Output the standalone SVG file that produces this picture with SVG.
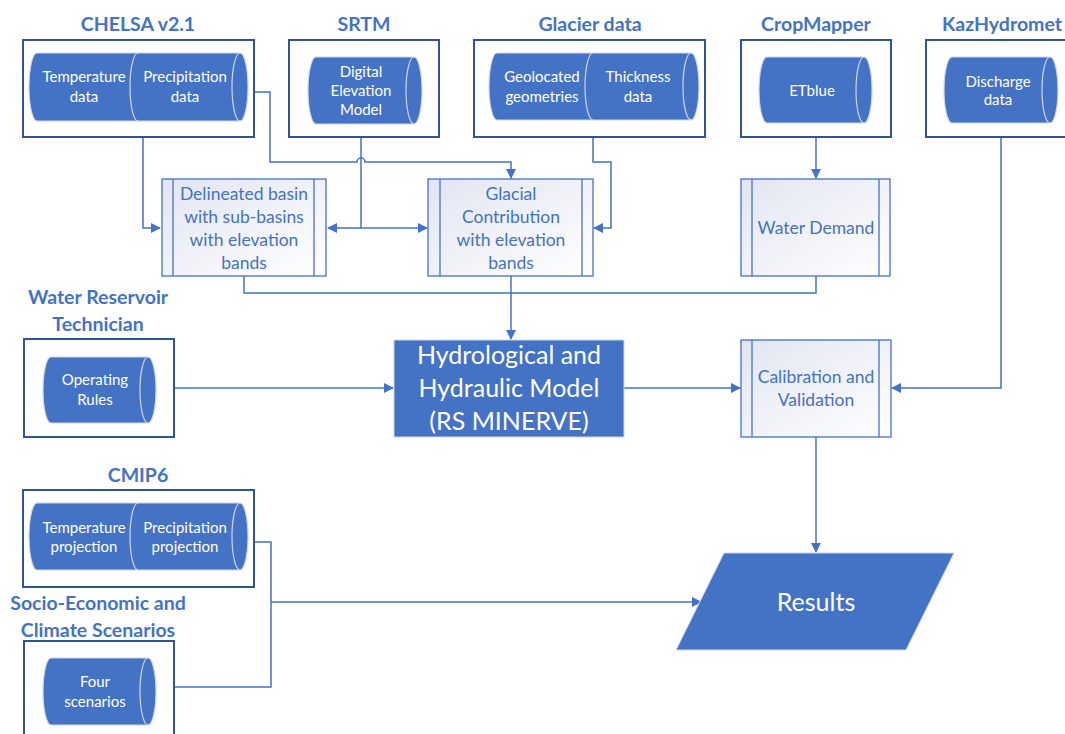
<svg xmlns="http://www.w3.org/2000/svg" width="1065" height="734" viewBox="0 0 1065 734">
<style>
.title{font-family:Lato,"Liberation Sans",sans-serif;font-weight:bold;font-size:19.5px;fill:#4472C4;text-anchor:middle}
.ct{font-family:Lato,"Liberation Sans",sans-serif;font-size:15px;fill:#FFFFFF;text-anchor:middle}
.pt{font-family:Lato,"Liberation Sans",sans-serif;font-size:17.5px;fill:#4472C4;text-anchor:middle}
.big{font-family:Lato,"Liberation Sans",sans-serif;font-size:25px;fill:#FFFFFF;text-anchor:middle}
.box{fill:#FFFFFF;stroke:#2F5597;stroke-width:2}
.cyl{fill:#4472C4;stroke:#D0D5E0;stroke-width:1.2}
.cin{fill:none;stroke:#D0D5E0;stroke-width:1.2}
.proc{fill:url(#pg);stroke:#4472C4;stroke-width:1.3}
.bar{stroke:#4472C4;stroke-width:1.3}
.con{fill:none;stroke:#4472C4;stroke-width:1.5}
</style>
<defs>
<linearGradient id="pg" x1="0" y1="0" x2="1" y2="1">
<stop offset="0" stop-color="#E2E5F2"/>
<stop offset="1" stop-color="#FFFFFF"/>
</linearGradient>
<marker id="ah" markerWidth="10" markerHeight="10" refX="9" refY="5" orient="auto" markerUnits="userSpaceOnUse">
<path d="M0,0 L10,5 L0,10 Z" fill="#4472C4"/>
</marker>
</defs>

<g id="connectors">
<path class="con" d="M143,137 V228 H160" marker-end="url(#ah)"/>
<path class="con" d="M248,92 H270 V162 H357 A4,4 0 0 1 365,162 H511 V178" marker-end="url(#ah)"/>
<path class="con" d="M361,137 V228 H328" marker-end="url(#ah)"/>
<path class="con" d="M361,228 H427" marker-end="url(#ah)"/>
<path class="con" d="M593,137 V162 H611 V228 H594" marker-end="url(#ah)"/>
<path class="con" d="M816,137 V178" marker-end="url(#ah)"/>
<path class="con" d="M1001,137 V388 H892" marker-end="url(#ah)"/>
<path class="con" d="M244,276 V293 H816 V276"/>
<path class="con" d="M511,276 V339" marker-end="url(#ah)"/>
<path class="con" d="M174,388 H393" marker-end="url(#ah)"/>
<path class="con" d="M624,388 H740" marker-end="url(#ah)"/>
<path class="con" d="M816,437 V552" marker-end="url(#ah)"/>
<path class="con" d="M255,542 H271 V687 H174"/>
<path class="con" d="M271,602 H701" marker-end="url(#ah)"/>
</g>

<g id="chelsa">
<text class="title" x="138" y="31">CHELSA v2.1</text>
<rect class="box" x="23" y="40" width="231" height="97"/>
<path class="cyl" d="M37,53 H240 A8,34 0 0 1 240,121 H37 A8,34 0 0 1 37,53 Z"/>
<path class="cin" d="M240,53 A8,34 0 0 0 240,121 M138,53 A8,34 0 0 0 138,121"/>
<text class="ct" x="84" y="82">Temperature</text>
<text class="ct" x="84" y="102">data</text>
<text class="ct" x="185" y="82">Precipitation</text>
<text class="ct" x="185" y="102">data</text>
</g>

<g id="srtm">
<text class="title" x="364" y="31">SRTM</text>
<rect class="box" x="289" y="40" width="150" height="97"/>
<path class="cyl" d="M316,57 H414 A8,33.5 0 0 1 414,124 H316 A8,33.5 0 0 1 316,57 Z"/>
<path class="cin" d="M414,57 A8,33.5 0 0 0 414,124"/>
<text class="ct" x="361" y="77">Digital</text>
<text class="ct" x="361" y="96">Elevation</text>
<text class="ct" x="361" y="115">Model</text>
</g>

<g id="glacier">
<text class="title" x="590" y="31">Glacier data</text>
<rect class="box" x="474" y="40" width="231" height="97"/>
<path class="cyl" d="M497,53 H691 A8,33.5 0 0 1 691,120 H497 A8,33.5 0 0 1 497,53 Z"/>
<path class="cin" d="M691,53 A8,33.5 0 0 0 691,120 M593,53 A8,33.5 0 0 0 593,120"/>
<text class="ct" x="542" y="82">Geolocated</text>
<text class="ct" x="542" y="102">geometries</text>
<text class="ct" x="638" y="82">Thickness</text>
<text class="ct" x="638" y="102">data</text>
</g>

<g id="cropmapper">
<text class="title" x="816" y="31">CropMapper</text>
<rect class="box" x="741" y="40" width="150" height="97"/>
<path class="cyl" d="M767,57 H864 A8,33 0 0 1 864,123 H767 A8,33 0 0 1 767,57 Z"/>
<path class="cin" d="M864,57 A8,33 0 0 0 864,123"/>
<text class="ct" x="812" y="96">ETblue</text>
</g>

<g id="kazhydromet">
<text class="title" x="1002" y="31">KazHydromet</text>
<rect class="box" x="926" y="40" width="160" height="97"/>
<path class="cyl" d="M952,57 H1050 A8,33 0 0 1 1050,123 H952 A8,33 0 0 1 952,57 Z"/>
<path class="cin" d="M1050,57 A8,33 0 0 0 1050,123"/>
<text class="ct" x="998" y="87">Discharge</text>
<text class="ct" x="998" y="105">data</text>
</g>

<g id="delineated">
<rect class="proc" x="162" y="179" width="164" height="97"/>
<line class="bar" x1="173" y1="179" x2="173" y2="276"/>
<line class="bar" x1="314" y1="179" x2="314" y2="276"/>
<text class="pt" x="244" y="200">Delineated basin</text>
<text class="pt" x="244" y="223">with sub-basins</text>
<text class="pt" x="244" y="246">with elevation</text>
<text class="pt" x="244" y="269">bands</text>
</g>

<g id="glacial">
<rect class="proc" x="428" y="179" width="165" height="97"/>
<line class="bar" x1="440" y1="179" x2="440" y2="276"/>
<line class="bar" x1="582" y1="179" x2="582" y2="276"/>
<text class="pt" x="511" y="200">Glacial</text>
<text class="pt" x="511" y="223">Contribution</text>
<text class="pt" x="511" y="246">with elevation</text>
<text class="pt" x="511" y="269">bands</text>
</g>

<g id="waterdemand">
<rect class="proc" x="741" y="179" width="149" height="97"/>
<line class="bar" x1="752" y1="179" x2="752" y2="276"/>
<line class="bar" x1="879" y1="179" x2="879" y2="276"/>
<text class="pt" x="816" y="234">Water Demand</text>
</g>

<g id="reservoir">
<text class="title" x="98" y="304">Water Reservoir</text>
<text class="title" x="98" y="331">Technician</text>
<rect class="box" x="24" y="339" width="150" height="98"/>
<path class="cyl" d="M51,357 H148 A8,33 0 0 1 148,423 H51 A8,33 0 0 1 51,357 Z"/>
<path class="cin" d="M148,357 A8,33 0 0 0 148,423"/>
<text class="ct" x="95" y="385">Operating</text>
<text class="ct" x="95" y="405">Rules</text>
</g>

<g id="model">
<rect x="394" y="340" width="230" height="97" fill="#4472C4" stroke="#D0D5E0" stroke-width="1"/>
<text class="big" x="509" y="364">Hydrological and</text>
<text class="big" x="509" y="397">Hydraulic Model</text>
<text class="big" x="509" y="430">(RS MINERVE)</text>
</g>

<g id="calibration">
<rect class="proc" x="741" y="340" width="150" height="97"/>
<line class="bar" x1="752" y1="340" x2="752" y2="437"/>
<line class="bar" x1="879" y1="340" x2="879" y2="437"/>
<text class="pt" x="816" y="383">Calibration and</text>
<text class="pt" x="816" y="406">Validation</text>
</g>

<g id="cmip6">
<text class="title" x="138" y="482">CMIP6</text>
<rect class="box" x="23" y="490" width="231" height="97"/>
<path class="cyl" d="M37,503 H240 A8,33.5 0 0 1 240,570 H37 A8,33.5 0 0 1 37,503 Z"/>
<path class="cin" d="M240,503 A8,33.5 0 0 0 240,570 M138,503 A8,33.5 0 0 0 138,570"/>
<text class="ct" x="84" y="533">Temperature</text>
<text class="ct" x="84" y="552">projection</text>
<text class="ct" x="185" y="533">Precipitation</text>
<text class="ct" x="185" y="552">projection</text>
</g>

<g id="scenarios">
<text class="title" x="98" y="610">Socio-Economic and</text>
<text class="title" x="98" y="637">Climate Scenarios</text>
<rect class="box" x="24" y="641" width="150" height="110"/>
<path class="cyl" d="M51,658 H148 A8,33.5 0 0 1 148,725 H51 A8,33.5 0 0 1 51,658 Z"/>
<path class="cin" d="M148,658 A8,33.5 0 0 0 148,725"/>
<text class="ct" x="95" y="687">Four</text>
<text class="ct" x="95" y="707">scenarios</text>
</g>

<g id="results">
<path d="M724,553 H954 L906,650 H676 Z" fill="#4472C4" stroke="#D0D5E0" stroke-width="1"/>
<text class="big" x="816" y="611">Results</text>
</g>
</svg>
